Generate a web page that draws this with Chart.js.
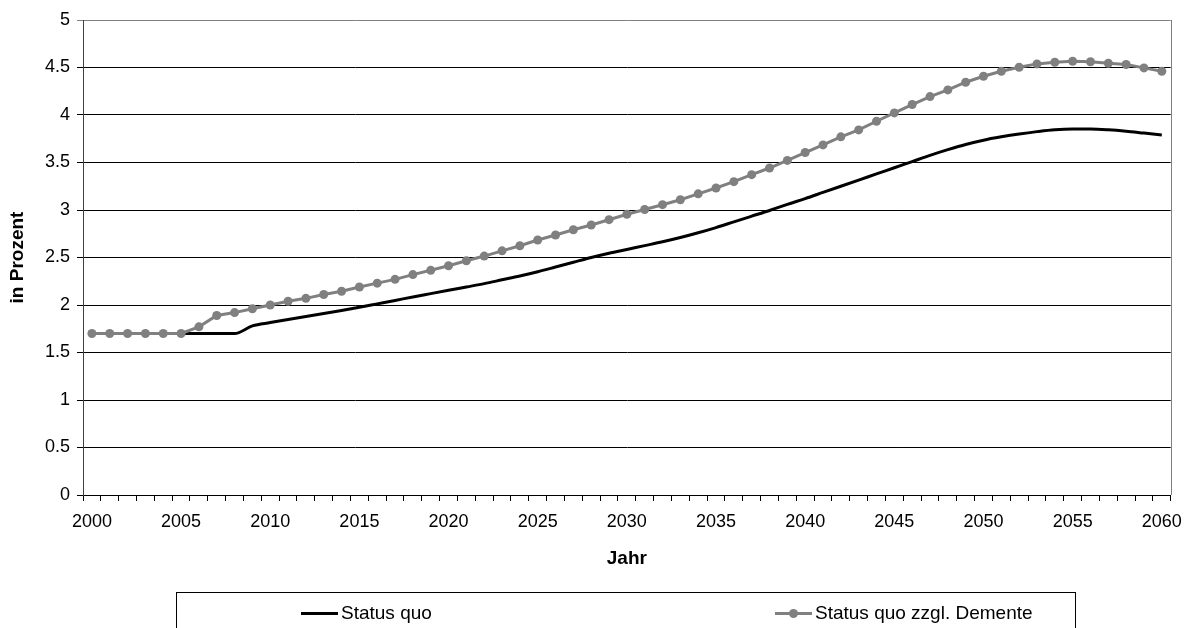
<!DOCTYPE html>
<html>
<head>
<meta charset="utf-8">
<script src="https://cdn.jsdelivr.net/npm/chart.js@4.4.1/dist/chart.umd.min.js"></script>
<style>
  html, body { margin: 0; padding: 0; background: #fff; }
  #wrap { position: relative; width: 1192px; height: 628px; overflow: hidden; font-family: "Liberation Sans", Arial, sans-serif; }
  #legend { position: absolute; left: 176px; top: 592px; width: 900px; height: 60px; border: 1px solid #000; box-sizing: border-box; }
  .item { position: absolute; top: 9px; font-size: 19px; line-height: 22px; display: flex; align-items: center; color: #000; }
  .sample { position: relative; width: 37px; height: 22px; margin-right: 3px; }
  .sample .ln { position: absolute; left: 0; right: 0; top: 10px; height: 3px; }
  .sample .dot { position: absolute; left: 14px; top: 7px; width: 9px; height: 9px; border-radius: 50%; }
</style>
</head>
<body>
<div id="wrap">
  <canvas id="myChart" width="1192" height="628"></canvas>
  <div id="legend"></div>
</div>
<script>
//Line chart: Status quo vs. Status quo zzgl. Demente, 2000-2060

const years = [
  2000, 2001, 2002, 2003, 2004, 2005, 2006, 2007, 2008, 2009,
  2010, 2011, 2012, 2013, 2014, 2015, 2016, 2017, 2018, 2019,
  2020, 2021, 2022, 2023, 2024, 2025, 2026, 2027, 2028, 2029,
  2030, 2031, 2032, 2033, 2034, 2035, 2036, 2037, 2038, 2039,
  2040, 2041, 2042, 2043, 2044, 2045, 2046, 2047, 2048, 2049,
  2050, 2051, 2052, 2053, 2054, 2055, 2056, 2057, 2058, 2059,
  2060
];

//black line, no markers
const statusQuo = [
  1.70, 1.70, 1.70, 1.70, 1.70, 1.70, 1.70, 1.70, 1.70, 1.78,
  1.815, 1.847, 1.879, 1.91, 1.942, 1.976, 2.012, 2.048, 2.085, 2.12,
  2.155, 2.19, 2.225, 2.265, 2.305, 2.35, 2.40, 2.45, 2.50, 2.545,
  2.585, 2.625, 2.665, 2.71, 2.76, 2.815, 2.875, 2.935, 2.995, 3.06,
  3.12, 3.185, 3.25, 3.315, 3.38, 3.445, 3.51, 3.575, 3.635, 3.69,
  3.735, 3.77, 3.80, 3.825, 3.845, 3.853, 3.853, 3.845, 3.83, 3.81,
  3.79
];

//grey line with round markers
const statusQuoDemente = [
  1.70, 1.70, 1.70, 1.70, 1.70, 1.70, 1.77, 1.89, 1.92, 1.96,
  2.00, 2.04, 2.07, 2.11, 2.145, 2.19, 2.23, 2.27, 2.32, 2.365,
  2.413, 2.466, 2.515, 2.57, 2.624, 2.684, 2.737, 2.792, 2.842, 2.898,
  2.955, 3.005, 3.056, 3.108, 3.17, 3.232, 3.298, 3.372, 3.442, 3.522,
  3.605, 3.685, 3.77, 3.843, 3.934, 4.022, 4.11, 4.194, 4.264, 4.345,
  4.408, 4.461, 4.503, 4.538, 4.555, 4.566, 4.56, 4.545, 4.531, 4.496,
  4.461
];

const yMin = 0;
const yMax = 5;
const yStep = 0.5;

const FONT = "'Liberation Sans', Arial, sans-serif";

// grey right border of the plot area
const plotFrame = {
  id: "plotFrame",
  beforeDatasetsDraw(chart) {
    const { ctx, chartArea } = chart;
    ctx.save();
    ctx.strokeStyle = "#808080";
    ctx.lineWidth = 1;
    ctx.beginPath();
    ctx.moveTo(Math.round(chartArea.right) + 0.5, chartArea.top);
    ctx.lineTo(Math.round(chartArea.right) + 0.5, chartArea.bottom);
    ctx.stroke();
    ctx.restore();
  },
};

const ctx = document.getElementById("myChart");
const myChart = new Chart(ctx, {
  type: "line",
  data: {
    labels: years,
    datasets: [
      {
        label: "Status quo",
        data: statusQuo,
        borderColor: "#000000",
        backgroundColor: "#000000",
        borderWidth: 3,
        pointRadius: 0,
        cubicInterpolationMode: "monotone",
        order: 1,
      },
      {
        label: "Status quo zzgl. Demente",
        data: statusQuoDemente,
        borderColor: "#808080",
        backgroundColor: "#808080",
        borderWidth: 3,
        pointRadius: 4.5,
        pointBorderWidth: 0,
        pointBackgroundColor: "#808080",
        tension: 0,
        order: 0,
      },
    ],
  },
  options: {
    responsive: false,
    animation: false,
    locale: "en-US",
    layout: {
      padding: { top: 20, right: 21, left: 0, bottom: 0 },
    },
    scales: {
      x: {
        type: "category",
        offset: true,
        afterFit: (scale) => { scale.height = 133; },
        border: { color: "#000", width: 1 },
        grid: {
          offset: true,
          drawOnChartArea: false,
          drawTicks: true,
          tickLength: 6,
          color: "#000",
        },
        ticks: {
          autoSkip: false,
          maxRotation: 0,
          padding: 10,
          color: "#000",
          font: { family: FONT, size: 18 },
          callback: function (val, index) {
            const y = years[index];
            return y % 5 === 0 ? String(y) : "";
          },
        },
        title: {
          display: true,
          text: "Jahr",
          color: "#000",
          font: { family: FONT, size: 19, weight: "bold" },
          padding: { top: 0, bottom: 58 },
        },
      },
      y: {
        min: yMin,
        max: yMax,
        afterFit: (scale) => { scale.width = 83; },
        border: { color: "#404040", width: 1 },
        grid: {
          color: (c) => (c.tick && c.tick.value === yMax ? "#808080" : "#000"),
          lineWidth: 1,
          drawTicks: true,
          tickLength: 6,
        },
        ticks: {
          stepSize: yStep,
          padding: 7,
          color: "#000",
          font: { family: FONT, size: 18 },
          callback: (value) => String(Math.round(value * 10) / 10),
        },
        title: {
          display: true,
          text: "in Prozent",
          color: "#000",
          font: { family: FONT, size: 19, weight: "bold" },
          padding: { top: 6, bottom: 0 },
        },
      },
    },
    plugins: {
      legend: { display: false },
      tooltip: { enabled: false },
    },
  },
  plugins: [plotFrame],
});

// legend below the chart, built from the datasets
const legendEl = document.getElementById("legend");
const itemLeft = [124, 598]; // offsets inside the legend box
myChart.data.datasets.forEach((ds, i) => {
  const item = document.createElement("div");
  item.className = "item";
  item.style.left = itemLeft[i] + "px";
  const sample = document.createElement("span");
  sample.className = "sample";
  const ln = document.createElement("span");
  ln.className = "ln";
  ln.style.background = ds.borderColor;
  sample.appendChild(ln);
  if (ds.pointRadius > 0) {
    const dot = document.createElement("span");
    dot.className = "dot";
    dot.style.background = ds.pointBackgroundColor;
    sample.appendChild(dot);
  }
  item.appendChild(sample);
  const txt = document.createElement("span");
  txt.textContent = ds.label;
  item.appendChild(txt);
  legendEl.appendChild(item);
});
</script>
</body>
</html>
